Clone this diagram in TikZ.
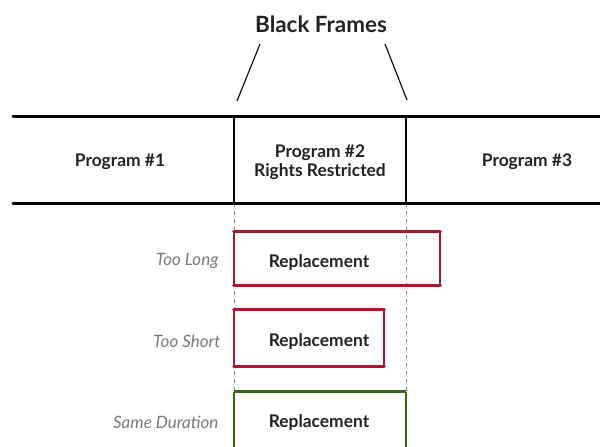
\documentclass[tikz,border=0pt]{standalone}
\usepackage{fontspec}
\setmainfont{Lato}
\definecolor{boxred}{HTML}{A8192E}
\definecolor{boxgreen}{HTML}{2F6A14}
\definecolor{labelgray}{HTML}{7A7A7A}
\definecolor{textdark}{HTML}{222222}
\begin{document}
\begin{tikzpicture}[x=1pt,y=-1pt,
  prog/.style={font=\fontsize{17.4}{19.5}\selectfont\bfseries, text=textdark, align=center},
  cond/.style={font=\fontsize{17}{19}\selectfont\itshape, text=labelgray, anchor=east},
  repl/.style={font=\fontsize{17.4}{19}\selectfont\bfseries, text=textdark},
  rbox/.style={draw=none, inner sep=0pt},
  thickline/.style={line width=3pt, line cap=round},
  sepline/.style={line width=1.3pt},
  guide/.style={line width=0.8pt, dashed, dash pattern=on 4pt off 4pt, draw=gray},
  pointer/.style={line width=1.1pt}
]
\useasboundingbox (0,0) rectangle (600,447);
% title
\node[font=\fontsize{22.4}{24}\selectfont\bfseries, text=textdark] (title) at (321,24) {Black Frames};
\coordinate (tl) at (260,44);
\coordinate (tr) at (385,44);
% timeline coordinates
\coordinate (topL) at (13,116);
\coordinate (topR) at (600,116);
\coordinate (botL) at (13,203);
\coordinate (botR) at (600,203);
\coordinate (s1t) at (234,116);
\coordinate (s1b) at (234,203);
\coordinate (s2t) at (406,116);
\coordinate (s2b) at (406,203);
\coordinate (s1e) at (234,447);
\coordinate (s2e) at (406,447);
\coordinate (p1) at (237,101);
\coordinate (p2) at (407,100);
% pointers
\draw[pointer] (tl) -- (p1);
\draw[pointer] (tr) -- (p2);
% dashed guides
\draw[guide] (s1b) -- (s1e);
\draw[guide] (s2b) -- (s2e);
% separators
\draw[sepline] (s1t) -- (s1b);
\draw[sepline] (s2t) -- (s2b);
% thick lines
\draw[thickline] (topL) -- (topR);
\draw[thickline] (botL) -- (botR);
% program labels
\node[prog] (prog1) at (120,162) {Program \#1};
\node[prog] (prog2) at (320,162) {Program \#2\\Rights Restricted};
\node[prog] (prog3) at (527,162) {Program \#3};
% replacement boxes
\node[rbox, minimum width=206pt, minimum height=53pt] (longbox) at (337,258.5) {};
\node[rbox, minimum width=150pt, minimum height=56pt] (shortbox) at (309,338) {};
\node[rbox, minimum width=172pt, minimum height=70pt] (samebox) at (320,427) {};
\draw[boxred, line width=1.8pt] (longbox.north west) -- (longbox.south west);
\draw[boxred, line width=1.8pt] (longbox.north east) -- (longbox.south east);
\draw[boxred, line width=3.2pt, line cap=round] (longbox.north west) -- (longbox.north east);
\draw[boxred, line width=3.2pt, line cap=round] (longbox.south west) -- (longbox.south east);
\draw[boxred, line width=1.8pt] (shortbox.north west) -- (shortbox.south west);
\draw[boxred, line width=1.8pt] (shortbox.north east) -- (shortbox.south east);
\draw[boxred, line width=3.2pt, line cap=round] (shortbox.north west) -- (shortbox.north east);
\draw[boxred, line width=3.2pt, line cap=round] (shortbox.south west) -- (shortbox.south east);
\draw[boxgreen, line width=1.8pt] (samebox.north west) -- (samebox.south west);
\draw[boxgreen, line width=1.8pt] (samebox.north east) -- (samebox.south east);
\draw[boxgreen, line width=3.2pt] (samebox.north west) -- (samebox.north east);
\node[repl] (r1) at (319,262) {Replacement};
\node[repl] (r2) at (319,341) {Replacement};
\node[repl] (r3) at (319,422) {Replacement};
% condition labels
\node[cond] (c1) at (222,261) {Too Long};
\node[cond] (c2) at (224,341) {Too Short};
\node[cond] (c3) at (222,422) {Same Duration};
\end{tikzpicture}
\end{document}
